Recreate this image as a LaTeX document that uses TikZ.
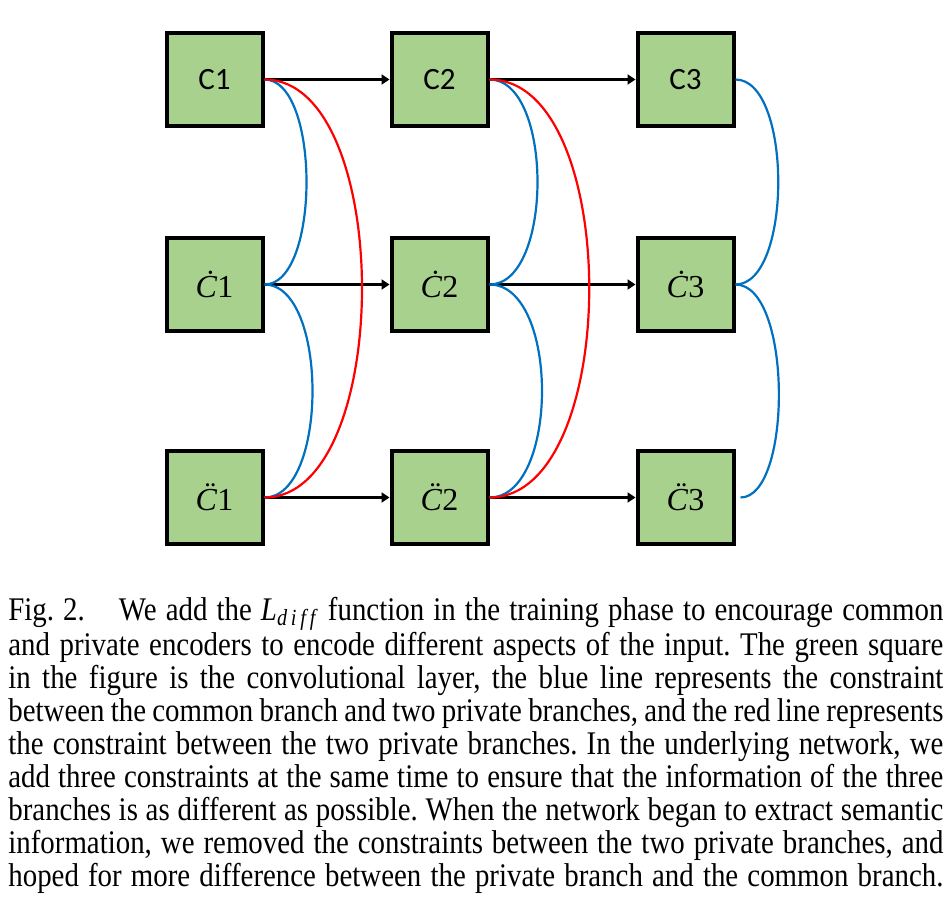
\documentclass[tikz,border=0pt]{standalone}
\usepackage{fontspec}
\usetikzlibrary{positioning,arrows.meta}
\newfontfamily\boxfont{Carlito}
\newfontfamily\privfont{Liberation Serif}
\newfontfamily\capfont[FakeStretch=0.875]{Liberation Serif}
\definecolor{convgreen}{RGB}{169,209,142}
\definecolor{tieblue}{RGB}{0,112,192}
\definecolor{tiered}{RGB}{255,0,0}
\newcommand{\capline}[1]{\makebox[467.5pt][s]{#1}}
\newcommand{\dotC}{\textit{\.C}}
\newcommand{\ddotC}{\textit{\accent"00A8 C}}

\begin{document}
\frenchspacing
\begin{tikzpicture}[
  x=0.5pt, y=-0.5pt,
  conv/.style={draw, line width=2pt, fill=convgreen, minimum width=48pt, minimum height=46.5pt, font=\privfont\fontsize{16pt}{18pt}\selectfont},
  common/.style={conv, font=\boxfont\fontsize{15.5pt}{18pt}\selectfont},
  flow/.style={-{Triangle[length=4pt,width=5pt]}, line width=1.8pt},
  bluetie/.style={tieblue, line width=1.1pt},
  redtie/.style={tiered, line width=1.1pt}
]
\useasboundingbox (0,0) rectangle (949,907);

% common branch (top) and the two private branches
\node[common] (c1) at (214.5,79.5) {C1};
\node[common, right=62.5pt of c1] (c2) {C2};
\node[common, right=73pt of c2] (c3) {C3};
\node[conv, below=54pt of c1] (d1) {\dotC1};
\node[conv, below=54pt of c2] (d2) {\dotC2};
\node[conv, below=54pt of c3] (d3) {\dotC3};
\node[conv, below=58pt of d1] (e1) {\ddotC1};
\node[conv, below=58pt of d2] (e2) {\ddotC2};
\node[conv, below=58pt of d3] (e3) {\ddotC3};

\draw[flow] (c1) -- (c2);
\draw[flow] (c2) -- (c3);
\draw[flow] (d1) -- (d2);
\draw[flow] (d2) -- (d3);
\draw[flow] (e1) -- (e2);
\draw[flow] (e2) -- (e3);

% constraints
\draw[bluetie] (c1.east) .. controls +(56,0) and +(56,0) .. (d1.east);
\draw[bluetie] (d1.east) .. controls +(64,0) and +(64,0) .. (e1.east);
\draw[redtie] (c1.east) .. controls +(130,0) and +(130,0) .. (e1.east);
\draw[bluetie] (c2.east) .. controls +(64,0) and +(64,0) .. (d2.east);
\draw[bluetie] (d2.east) .. controls +(70,0) and +(70,0) .. (e2.east);
\draw[redtie] (c2.east) .. controls +(133,0) and +(133,0) .. (e2.east);
\draw[bluetie] (c3.east) .. controls +(57,0) and +(57,0) .. (d3.east);
\draw[bluetie] (d3.east) .. controls +(57,0) and +(52,0) .. ([xshift=2.5pt]e3.east);

\node[anchor=north west, inner sep=0pt, align=left, font=\capfont\fontsize{16.5pt}{16.5pt}\selectfont] (caption) at (8,596.5) {%
\capline{Fig.~2.\hspace{17pt}We add the \textit{L}\textsubscript{\textit{d\,i\,f\,f}} function in the training phase to encourage common}\\
\capline{and private encoders to encode different aspects of the input. The green square}\\
\capline{in the figure is the convolutional layer, the blue line represents the constraint}\\
\capline{between the common branch and two private branches, and the red line represents}\\
\capline{the constraint between the two private branches. In the underlying network, we}\\
\capline{add three constraints at the same time to ensure that the information of the three}\\
\capline{branches is as different as possible. When the network began to extract semantic}\\
\capline{information, we removed the constraints between the two private branches, and}\\
\capline{hoped for more difference between the private branch and the common branch.}};
\end{tikzpicture}
\end{document}
